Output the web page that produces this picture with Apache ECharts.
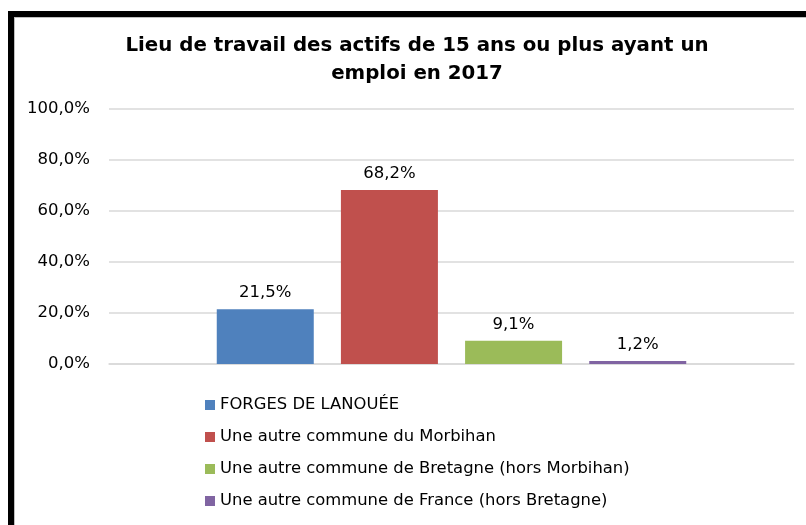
<!DOCTYPE html>
<html>
<head>
<meta charset="utf-8">
<script src="https://cdn.jsdelivr.net/npm/echarts@6/dist/echarts.min.js"></script>
<style>
  html, body { margin: 0; padding: 0; background: #fff; }
  #chart { width: 806px; height: 525px; }
</style>
</head>
<body>
<div id="chart"></div>
<script>
const seriesNames = [
    'FORGES DE LANOUÉE',
    'Une autre commune du Morbihan',
    'Une autre commune de Bretagne (hors Morbihan)',
    'Une autre commune de France (hors Bretagne)'
];
const seriesValues = [21.5, 68.2, 9.1, 1.2];
const seriesColors = ['#4F81BD', '#C0504D', '#9BBB59', '#8064A2'];
const yTicks = [0, 20, 40, 60, 80, 100];

const fontName = 'DejaVu Sans';

function pct(v, digits) {
    return v.toFixed(digits).replace('.', ',') + '%';
}

const chart = echarts.init(document.getElementById('chart'));

let series = [];
seriesNames.forEach(function (name, i) {
    series.push({
        name: name,
        type: 'bar',
        data: [seriesValues[i]],
        barWidth: 97,
        barGap: '28%',
        itemStyle: {color: seriesColors[i]},
        label: {
            show: true,
            position: 'top',
            distance: 8,
            color: '#000',
            fontFamily: fontName,
            fontSize: 16.5,
            formatter: function (p) { return pct(p.value, 1); }
        }
    });
});

const option = {
    animation: false,
    backgroundColor: '#fff',
    title: {
        text: 'Lieu de travail des actifs de 15 ans ou plus ayant un\nemploi en 2017',
        left: 412,
        top: 27,
        textAlign: 'center',
        textStyle: {
            fontFamily: fontName,
            fontWeight: 'bold',
            fontSize: 19.8,
            lineHeight: 28,
            color: '#000'
        }
    },
    legend: {
        orient: 'vertical',
        left: 200,
        top: 392,
        itemWidth: 10,
        itemHeight: 10,
        itemGap: 16,
        icon: 'rect',
        textStyle: {
            fontFamily: fontName,
            fontSize: 16.4,
            color: '#000'
        },
        data: seriesNames
    },
    grid: {left: 109, right: 12, top: 109, bottom: 161},
    xAxis: {
        type: 'category',
        data: [''],
        axisLine: {lineStyle: {color: '#D9D9D9', width: 1.5}},
        axisTick: {show: false},
        axisLabel: {show: false}
    },
    yAxis: {
        type: 'value',
        min: yTicks[0],
        max: yTicks[yTicks.length - 1],
        interval: 20,
        axisLine: {show: false},
        axisTick: {show: false},
        splitLine: {lineStyle: {color: '#D9D9D9', width: 1.5}},
        axisLabel: {
            fontFamily: fontName,
            fontSize: 16.5,
            color: '#000',
            margin: 19,
            formatter: function (v) { return pct(v, 1); }
        }
    },
    graphic: [
        {type: 'rect', shape: {x: 8, y: 11, width: 806, height: 6}, style: {fill: '#000'}},
        {type: 'rect', shape: {x: 8, y: 11, width: 6, height: 520}, style: {fill: '#000'}},
        {type: 'rect', shape: {x: 14, y: 17, width: 800, height: 1}, style: {fill: '#BFBFBF'}},
        {type: 'rect', shape: {x: 14, y: 17, width: 1, height: 520}, style: {fill: '#BFBFBF'}}
    ],
    series: series
};

chart.setOption(option);
</script>
</body>
</html>
